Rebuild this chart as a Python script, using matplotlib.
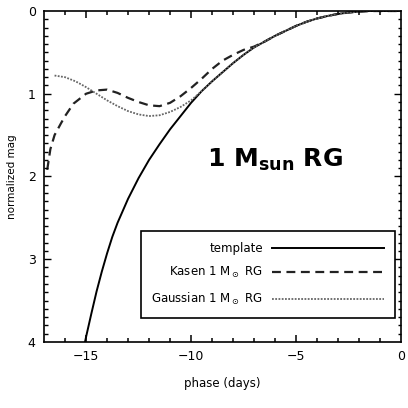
import numpy as np
import matplotlib
matplotlib.use('Agg')
import matplotlib.pyplot as plt
import matplotlib.transforms as mtransforms
from matplotlib.ticker import MultipleLocator

# values
template_phase = [-15.1, -15.0, -14.75, -14.5, -14.25, -14.0, -13.75, -13.5, -13.0, -12.5,
                  -12.0, -11.5, -11.0, -10.5, -10.0, -9.5, -9.0, -8.5, -8.0, -7.5,
                  -7.0, -6.5, -6.0, -5.5, -5.0, -4.5, -4.0, -3.5, -3.0, -2.5,
                  -2.0, -1.5, -1.0, -0.5, 0.0]
template_mag = [4.06, 3.94, 3.66, 3.39, 3.15, 2.93, 2.73, 2.56, 2.27, 2.02,
                1.80, 1.61, 1.43, 1.27, 1.11, 0.97, 0.85, 0.74, 0.63, 0.53,
                0.44, 0.37, 0.30, 0.24, 0.18, 0.13, 0.09, 0.06, 0.035, 0.018,
                0.007, 0.0, 0.0, 0.0, 0.0]

kasen_phase = [-16.85, -16.7, -16.5, -16.2, -16.0, -15.6, -15.0, -14.5, -14.0, -13.5,
               -13.0, -12.5, -12.0, -11.5, -11.0, -10.5, -10.0, -9.5, -9.0, -8.5,
               -8.0, -7.5, -7.0, -6.5, -6.0, -5.5, -5.0, -4.5, -4.0, -3.5,
               -3.0, -2.5, -2.0, -1.5, -1.0, -0.5, 0.0]
kasen_mag = [1.92, 1.67, 1.50, 1.36, 1.27, 1.12, 1.00, 0.96, 0.95, 0.99,
             1.05, 1.10, 1.14, 1.15, 1.11, 1.03, 0.93, 0.82, 0.70, 0.60,
             0.53, 0.47, 0.43, 0.37, 0.30, 0.24, 0.18, 0.13, 0.09, 0.06,
             0.035, 0.018, 0.007, 0.0, 0.0, 0.0, 0.0]

gauss_phase = [-16.5, -16.0, -15.5, -15.0, -14.5, -14.0, -13.5, -13.0, -12.5, -12.0,
               -11.5, -11.0, -10.5, -10.0, -9.5, -9.0, -8.5, -8.0, -7.5, -7.0,
               -6.5, -6.0, -5.5, -5.0, -4.5, -4.0, -3.5, -3.0, -2.5, -2.0,
               -1.5, -1.0, -0.5, 0.0]
gauss_mag = [0.78, 0.80, 0.85, 0.92, 1.00, 1.08, 1.15, 1.21, 1.25, 1.27,
             1.26, 1.22, 1.16, 1.08, 0.97, 0.85, 0.74, 0.63, 0.53, 0.44,
             0.37, 0.30, 0.24, 0.18, 0.13, 0.09, 0.06, 0.035, 0.018, 0.007,
             0.0, 0.0, 0.0, 0.0]

labels = ['template', r'Kasen 1 $\mathrm{M}_\odot$ RG', r'Gaussian 1 $\mathrm{M}_\odot$ RG']

plt.rcParams['font.family'] = 'DejaVu Sans'

fig = plt.figure(figsize=(4.08, 4.08), dpi=100)
ax = fig.add_axes([0.108, 0.162, 0.875, 0.811])

ax.plot(template_phase, template_mag, color='black', lw=1.4, label=labels[0])
ax.plot(kasen_phase, kasen_mag, color='#222222', lw=1.6, ls=(0, (4, 2.5)), label=labels[1])
ax.plot(gauss_phase, gauss_mag, color='#666666', lw=1.3, ls=(0, (1, 0.8)), label=labels[2])

ax.set_xlim(-17, 0)
ax.set_ylim(4, 0)
ax.xaxis.set_major_locator(MultipleLocator(5))
ax.xaxis.set_minor_locator(MultipleLocator(1))
ax.yaxis.set_major_locator(MultipleLocator(1))
ax.yaxis.set_minor_locator(MultipleLocator(0.1))
ax.tick_params(which='both', direction='in', length=0, pad=6, labelsize=9)

# tick marks drawn as short segments on all four sides (inward, IDL style)
xtrans = mtransforms.blended_transform_factory(ax.transData, ax.transAxes)
ytrans = mtransforms.blended_transform_factory(ax.transAxes, ax.transData)
xmaj_len, xmin_len = 7 / 331, 3.5 / 331
ymaj_len, ymin_len = 7 / 357, 3.5 / 357
for v in MultipleLocator(1).tick_values(-17, 0):
    if -17 < v < 0:
        L = xmaj_len if v % 5 == 0 else xmin_len
        for y0, y1 in [(0, L), (1, 1 - L)]:
            ax.plot([v, v], [y0, y1], transform=xtrans, color='black', lw=1.1,
                    clip_on=False, solid_capstyle='butt')
for v in np.round(MultipleLocator(0.1).tick_values(0, 4), 2):
    if 0 < v < 4:
        L = ymaj_len if abs(v - round(v)) < 1e-6 else ymin_len
        for x0, x1 in [(0, L), (1, 1 - L)]:
            ax.plot([x0, x1], [v, v], transform=ytrans, color='black', lw=1.0,
                    clip_on=False, solid_capstyle='butt')

ax.set_xlabel('phase (days)', fontsize=8.5, labelpad=10)
ax.set_ylabel('normalized mag', fontsize=7.5, labelpad=8)

ax.text(0.457, 0.529, r'1 M$_\mathbf{sun}$ RG', transform=ax.transAxes,
        fontsize=18, fontweight='bold', va='baseline', ha='left')

leg = ax.legend(loc='lower right', bbox_to_anchor=(0.983, 0.073), markerfirst=False,
                fontsize=8.5, handlelength=9.5, handletextpad=0.8, labelspacing=0.9,
                borderpad=0.9, borderaxespad=0, fancybox=False, framealpha=1,
                edgecolor='black')
leg.get_frame().set_linewidth(1.2)
leg.set_zorder(5)

for s in ax.spines.values():
    s.set_linewidth(1.2)

fig.savefig('out.png', dpi=100, facecolor='white')
